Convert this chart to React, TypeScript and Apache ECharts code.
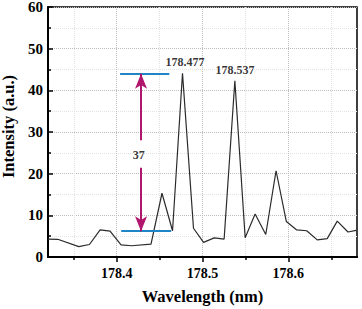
import React, { useEffect, useRef } from "react";
import * as echarts from "echarts";

const wavelength = [
  178.3198, 178.3314, 178.3558, 178.3683, 178.3807, 178.3923, 178.4051, 178.4174,
  178.44, 178.4528, 178.4651, 178.4767, 178.4895, 178.5012, 178.5136, 178.5252,
  178.5377, 178.5497, 178.5613, 178.5737, 178.5857, 178.5977, 178.6098, 178.6214,
  178.6337, 178.6453, 178.657, 178.6695, 178.679,
];
const intensity = [
  4.3, 4.25, 2.5, 3.0, 6.5, 6.2, 2.9, 2.7,
  3.1, 15.3, 6.3, 44.1, 6.9, 3.5, 4.6, 4.3,
  42.3, 4.6, 10.3, 5.4, 20.7, 8.5, 6.5, 6.3,
  4.1, 4.4, 8.6, 6.0, 6.4,
];

const majorXTicks = [178.4, 178.5, 178.6];
const minorXTicks = [178.35, 178.45, 178.55, 178.65];

// annotation: blue reference lines [x1, x2, y]
const refLines = [
  [178.404, 178.4613, 44],
  [178.4053, 178.4635, 6.2],
];
// arrows [x, yFrom, yTo]
const arrows = [
  [178.4284, 28, 44],
  [178.4284, 21.4, 6.2],
];
// text labels [x, y, text]
const labels: [number, number, string][] = [
  [178.4795, 46.8, "178.477"],
  [178.5378, 45.0, "178.537"],
  [178.4256, 24.5, "37"],
];

const FONT = '"Times New Roman", "Liberation Serif", serif';

export default function App() {
  const ref = useRef<HTMLDivElement>(null);
  useEffect(() => {
    document.body.style.margin = "0";
    const chart = echarts.init(ref.current!, null, { renderer: "svg" });
    const markData: any[] = [];
    refLines.forEach(([x1, x2, y]) => {
      markData.push([
        { coord: [x1, y], symbol: "none", lineStyle: { color: "#1f85c6", width: 2, type: "solid" } },
        { coord: [x2, y], symbol: "none" },
      ]);
    });
    arrows.forEach(([x, y1, y2]) => {
      markData.push([
        { coord: [x, y1], symbol: "none", lineStyle: { color: "#b0166c", width: 2, type: "solid" } },
        { coord: [x, y2], symbol: "arrow", symbolSize: [9, 15] },
      ]);
    });
    chart.setOption({
      animation: false,
      grid: {
        left: 48,
        top: 7,
        right: 5,
        bottom: 52,
        containLabel: false,
        outerBoundsMode: "none",
        show: true,
        borderColor: "#000",
        borderWidth: 1.5,
        backgroundColor: "transparent",
      },
      xAxis: [
        {
          type: "value",
          min: 178.32,
          max: 178.68,
          name: "Wavelength (nm)",
          nameLocation: "middle",
          nameGap: 31,
          nameTextStyle: { fontFamily: FONT, fontWeight: "bold", fontSize: 16.5, color: "#000" },
          axisLine: { show: true, onZero: false, lineStyle: { color: "#000", width: 2 } },
          axisTick: { show: true, customValues: minorXTicks, length: 3, inside: false, lineStyle: { color: "#000", width: 1.5 } },
          axisLabel: { show: false },
          splitLine: { show: true, lineStyle: { color: "#e2e2e2", type: "dotted", width: 1 } },
        },
        {
          type: "value",
          min: 178.32,
          max: 178.68,
          position: "bottom",
          axisLine: { show: true, onZero: false, lineStyle: { color: "#000", width: 2 } },
          axisTick: { show: true, customValues: majorXTicks, length: 5, inside: false, lineStyle: { color: "#000", width: 1.5 } },
          axisLabel: {
            show: true,
            customValues: majorXTicks,
            formatter: (v: number) => v.toFixed(1),
            fontFamily: FONT,
            fontWeight: "bold",
            fontSize: 14,
            color: "#000",
            margin: 9,
          },
          splitLine: { show: true, lineStyle: { color: "#bdbdbd", type: "dotted", width: 1 } },
        },
      ],
      yAxis: {
        type: "value",
        min: 0,
        max: 60,
        interval: 10,
        name: "Intensity (a.u.)",
        nameLocation: "middle",
        nameGap: 30,
        nameTextStyle: {
          fontFamily: FONT,
          fontWeight: "bold",
          fontSize: 16.5,
          color: "#000",
          padding: [0, 0, 0, 11],
        },
        axisLine: { show: true, lineStyle: { color: "#000", width: 2 } },
        axisTick: { show: true, inside: true, length: 5, lineStyle: { color: "#000", width: 1.5 } },
        minorTick: { show: true, splitNumber: 2, length: 3, lineStyle: { color: "#000", width: 1.5 } },
        axisLabel: { fontFamily: FONT, fontWeight: "bold", fontSize: 15, color: "#000", margin: 5 },
        splitLine: { show: true, lineStyle: { color: "#bdbdbd", type: "dotted", width: 1 } },
        minorSplitLine: { show: true, lineStyle: { color: "#e2e2e2", type: "dotted", width: 1 } },
      },
      series: [
        {
          type: "line",
          data: wavelength.map((w, i) => [w, intensity[i]]),
          symbol: "none",
          lineStyle: { color: "#2b2b2b", width: 1.2 },
          markLine: {
            silent: true,
            symbol: "none",
            label: { show: false },
            data: markData,
          },
        },
        {
          type: "scatter",
          symbolSize: 0,
          data: labels.map(([x, y, t]) => ({ value: [x, y], name: t })),
          label: {
            show: true,
            position: "inside",
            formatter: (p: any) => p.name,
            fontFamily: FONT,
            fontWeight: "bold",
            fontSize: 12,
            color: "#000",
          },
        },
      ],
    });
    return () => chart.dispose();
  }, []);
  return <div ref={ref} style={{ width: 362, height: 309 }} />;
}
